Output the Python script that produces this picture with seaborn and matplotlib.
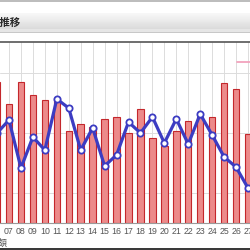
import matplotlib
matplotlib.use("Agg")
import matplotlib.pyplot as plt
import seaborn as sns
import pandas as pd
from matplotlib.patches import Rectangle
from matplotlib.lines import Line2D
import numpy as np

days = ["06", "07", "08", "09", "10", "11", "12", "13", "14", "15", "16",
        "17", "18", "19", "20", "21", "22", "23", "24", "25", "26", "27"]
amount = [2350, 1983, 2350, 2133, 2050, 2080, 1533, 1650, 1600, 1733, 1767,
          1500, 1900, 1417, 1283, 1533, 1700, 1767, 1767, 2333, 2233, 1483]
count = [49.7, 56.9, 30.4, 47.5, 40.3, 68.5, 63.5, 40.3, 52.5, 31.5, 37.6,
         55.8, 49.7, 58.6, 44.2, 57.5, 43.6, 60.2, 48.6, 36.5, 30.9, 19.3]
title_text = "の推移"
ylabel_text = "金額"

df = pd.DataFrame({"day": days, "amount": amount, "count": count})

sns.set_theme(style="white")
plt.rcParams['font.family'] = ['Liberation Sans', 'Noto Sans CJK JP', 'DejaVu Sans']

W = H = 250
fig = plt.figure(figsize=(2.5, 2.5), dpi=100)
fig.patch.set_facecolor("white")

def fy(py):
    return 1 - py / H

# header decorations
fig.add_artist(Rectangle((0, fy(1.5)), 1, 1.5 / H, transform=fig.transFigure,
                         facecolor="#bdbdbd", edgecolor="none"))
n = 20
top, bot = 13, 32
for i in range(n):
    y0 = top + (bot - top) * i / n
    t = i / (n - 1)
    c = 0.97 - 0.13 * t if t < 0.85 else 0.90
    fig.add_artist(Rectangle((0, fy(y0 + (bot - top) / n)), 1, (bot - top) / n / H,
                             transform=fig.transFigure, facecolor=(c, c, c), edgecolor="none"))
fig.add_artist(Rectangle((0, fy(33)), 1, 1 / H, transform=fig.transFigure,
                         facecolor="#c8c8c8", edgecolor="none"))
fig.text(20 / W, fy(22.5), title_text, ha="right", va="center", fontsize=7.5,
         fontweight="bold", color="#2a2a2a", family=['Noto Sans CJK JP', 'DejaVu Sans'])

ax = fig.add_axes([0, fy(223), 1, (223 - 42) / H])
sns.barplot(data=df, x="day", y="amount", ax=ax, color="#ec8a8a", saturation=1,
            width=0.54, edgecolor="#c4272c", linewidth=0.8, zorder=2)
ax.set_ylim(0, (223 - 42) / 60 * 1000)
ax.set_yticks([500, 1500, 2500])
ax.set_yticklabels([])
ax.grid(True, axis="both", color="#dcdcdc", linewidth=0.7, zorder=0)
ax.set_axisbelow(True)

ax2 = ax.twinx()
sns.pointplot(data=df, x="day", y="count", ax=ax2, color="#3c3cc2",
              markers="o", linewidth=2.3, markersize=4.5,
              markerfacecolor="white", markeredgecolor="#3c3cc2", markeredgewidth=1.3)
ax2.set_ylim(0, 100)
ax2.set_yticks([])
ax2.set_ylabel("")

for a in (ax, ax2):
    a.set_xlim(1 - 9 / 11.95, 1 + 241 / 11.95)
    for s in a.spines.values():
        s.set_visible(False)
ax.set_xlabel("")
ax.set_ylabel("")
ax.spines["top"].set_visible(True)
ax.spines["top"].set_color("#555555")
ax.spines["top"].set_linewidth(1.2)
ax.spines["bottom"].set_visible(True)
ax.spines["bottom"].set_color("#9a9a9a")
ax.spines["bottom"].set_linewidth(0.8)
ax.tick_params(axis="x", length=0, pad=3, labelsize=6.3, labelcolor="#555555")
ax.tick_params(axis="y", length=0)

# legend fragment
fig.add_artist(Line2D([237 / W, 1], [fy(61.5), fy(61.5)], transform=fig.transFigure,
                      color="#f2a3bd", linewidth=1.3))

fig.text(8 / W, fy(243), ylabel_text, ha="right", va="center", fontsize=6.5,
         color="#555555", family=['Noto Sans CJK JP', 'DejaVu Sans'])
fig.add_artist(Rectangle((0, 0), 1, 2 / H, transform=fig.transFigure,
                         facecolor="#3a3a3a", edgecolor="none"))

fig.savefig("out.png", dpi=100, facecolor="white")
